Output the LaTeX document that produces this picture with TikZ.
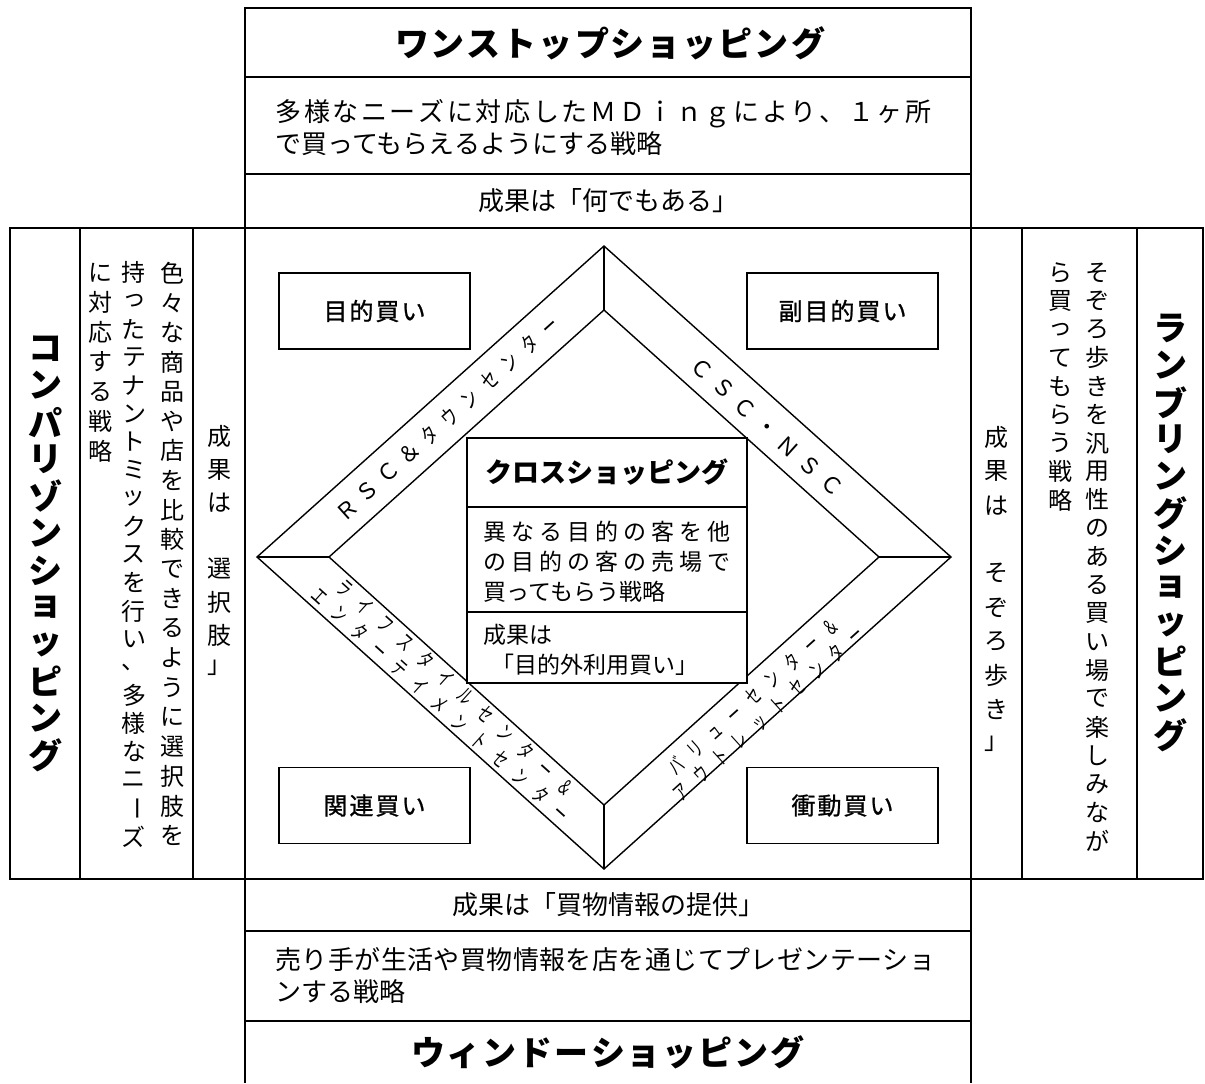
\documentclass[tikz,border=0pt]{standalone}
\usepackage{fontspec}
\setmainfont{Noto Sans CJK JP}
\usepackage{graphicx}
\newdimen\px \px=0.5pt
\ExplSyntaxOn
\NewDocumentCommand\spreadtext{mm}
 { \hbox_to_wd:nn {#1} { \tl_map_inline:nn {#2} { ##1 \hfil } \unskip } }
\NewDocumentCommand\pitched{mm}
 { \hbox:n { \tl_map_inline:nn {#2} { \hbox_to_wd:nn {#1} { \hss ##1 \hss } } } }
\NewDocumentCommand\npitched{mmm}
 { \hbox:n { \tl_map_inline:nn {#3} { \hbox_to_wd:nn {#1} { \hss \scalebox{#2}[1]{##1} \hss } } } }
\NewDocumentCommand\vtchar{m}
 { \str_if_eq:nnTF {#1} {ー} { \rotatebox[origin=c]{-90}{ー} } { #1 } }
\NewDocumentCommand\vtext{mm}
 { \vbox:n { \offinterlineskip \tl_map_inline:nn {#2}
   { \hbox_to_wd:nn {1.2em} { \hss \vbox_to_ht:nn {#1} { \vss \hbox:n { \vtchar{##1} } \vss } \hss } } } }
\ExplSyntaxOff
\begin{document}
\begin{tikzpicture}[x=0.5pt,y=-0.5pt,
  frame/.style={line width=2.4\px},
  thinline/.style={line width=1.4\px},
  body/.style={font=\fontsize{13pt}{16pt}\selectfont, inner sep=0pt},
  vbody/.style={font=\fontsize{12pt}{14pt}\selectfont, inner sep=0pt},
  ttl/.style={font=\fontsize{17pt}{20pt}\selectfont\bfseries, inner sep=0pt},
  cbox/.style={draw, line width=1.6\px, minimum width=191\px, minimum height=76\px, inner sep=0pt, font=\fontsize{12pt}{14pt}\selectfont\addfontfeature{FakeBold=1}},
  ctitle/.style={font=\fontsize{13.5pt}{16pt}\selectfont\bfseries, inner sep=0pt},
  cbody/.style={font=\fontsize{11.5pt}{15pt}\selectfont, inner sep=0pt},
  band/.style={font=\fontsize{11pt}{13pt}\selectfont, inner sep=0pt},
  band2/.style={font=\fontsize{10.5pt}{11.5pt}\selectfont, inner sep=0pt, align=center}]
\useasboundingbox (0,0) rectangle (1205,1083);
% ---------- frames ----------
\draw[frame] (245,8) rectangle (971,228);
\draw[frame] (245,77) -- (971,77);
\draw[frame] (245,174) -- (971,174);
\draw[frame] (10,228) rectangle (1203,879);
\draw[frame] (80,228) -- (80,879);
\draw[frame] (193,228) -- (193,879);
\draw[frame] (245,228) -- (245,1083);
\draw[frame] (971,228) -- (971,1083);
\draw[frame] (1022,228) -- (1022,879);
\draw[frame] (1137,228) -- (1137,879);
\draw[frame] (245,931) -- (971,931);
\draw[frame] (245,1021) -- (971,1021);
% ---------- diamond ----------
\coordinate (OT) at (604,246);
\coordinate (OL) at (257,557);
\coordinate (OB) at (604,869);
\coordinate (OR) at (951,557);
\coordinate (IT) at (604,310);
\coordinate (IL) at (329,557);
\coordinate (IB) at (604,805);
\coordinate (IR) at (879,557);
\draw[thinline] (OT) -- (OR) -- (OB) -- (OL) -- cycle;
\draw[thinline] (IT) -- (IR) -- (IB) -- (IL) -- cycle;
\draw[thinline] (OT) -- (IT);
\draw[thinline] (OL) -- (IL);
\draw[thinline] (OB) -- (IB);
\draw[thinline] (OR) -- (IR);
% ---------- center box ----------
\draw[line width=1.6\px, fill=white] (467,438) rectangle (747,683);
\draw[line width=1.6\px] (467,507) -- (747,507);
\draw[line width=1.6\px] (467,612) -- (747,612);
\node[ctitle] (cTitle) at (607,472.5) {\pitched{27\px}{クロスショッピング}};
\node[cbody, anchor=west, align=left] (cBody) at (483,562) {\spreadtext{247\px}{異なる目的の客を他}\\\spreadtext{247\px}{の目的の客の売場で}\\買ってもらう戦略};
\node[cbody, anchor=west, align=left] (cRes) at (483,650) {成果は\\\hspace*{4pt}「目的外利用買い」};
% ---------- corner boxes ----------
\node[cbox] (mok) at (374.5,311) {\pitched{26\px}{目的買い}};
\node[cbox] (fuku) at (842.5,311) {\pitched{26\px}{副目的買い}};
\node[cbox] (kan) at (374.5,805.5) {\pitched{26\px}{関連買い}};
\node[cbox] (sho) at (842.5,805.5) {\pitched{26\px}{衝動買い}};
% ---------- band labels ----------
\node[band, rotate=42] (rsc) at (448,418) {\pitched{28\px}{ＲＳＣ＆}\npitched{27\px}{0.7}{タウンセンター}};
\node[band, rotate=-42] (csc) at (767,427) {\pitched{29\px}{ＣＳＣ・ＮＳＣ}};
\node[band2, rotate=-42] (life) at (448,696) {\npitched{27\px}{0.65}{ライフスタイルセンター＆}\\\npitched{27\px}{0.65}{エンターテイメントセンター}};
\node[band2, rotate=42] (val) at (761,705) {\npitched{26\px}{0.65}{バリューセンター＆}\\\npitched{26\px}{0.65}{アウトレットセンター}};
% ---------- top block ----------
\node[ttl] (tTitle) at (610,43) {\pitched{36\px}{ワンストップショッピング}};
\node[body, anchor=west, align=left] (tBody) at (275,128) {\spreadtext{656\px}{多様なニーズに対応したＭＤｉｎｇにより、１ヶ所}\\で買ってもらえるようにする戦略};
\node[body] (tRes) at (608,201) {成果は「何でもある」};
% ---------- bottom block ----------
\node[body] (bRes) at (608,905) {成果は「買物情報の提供」};
\node[body, anchor=west, align=left] (bBody) at (275,976) {\spreadtext{660\px}{売り手が生活や買物情報を店を通じてプレゼンテーショ}\\ンする戦略};
\node[ttl] (bTitle) at (608,1052) {\pitched{36\px}{ウィンドーショッピング}};
% ---------- left block ----------
\node[ttl] (lTitle) at (45,552) {\vtext{37\px}{コンパリゾンショッピング}};
\node[vbody, anchor=north] (lc1) at (172,258) {\vtext{29.6\px}{色々な商品や店を比較できるように選択肢を}};
\node[vbody, anchor=north] (lc2) at (134,258) {\vtext{28.2\px}{持ったテナントミックスを行い、多様なニーズ}};
\node[vbody, anchor=north] (lc3) at (100,258) {\vtext{29.6\px}{に対応する戦略}};
\node[vbody, anchor=north] (lRes) at (219,420) {\vtext{33\px}{成果は　選択肢」}};
% ---------- right block ----------
\node[vbody, anchor=north] (rRes) at (996,420) {\vtext{34\px}{成果は　そぞろ歩き」}};
\node[vbody, anchor=north] (rc1) at (1097,258) {\vtext{28.4\px}{そぞろ歩きを汎用性のある買い場で楽しみなが}};
\node[vbody, anchor=north] (rc2) at (1060,258) {\vtext{28.4\px}{ら買ってもらう戦略}};
\node[ttl] (rTitle) at (1170,532) {\vtext{37\px}{ランブリングショッピング}};
\end{tikzpicture}
\end{document}
